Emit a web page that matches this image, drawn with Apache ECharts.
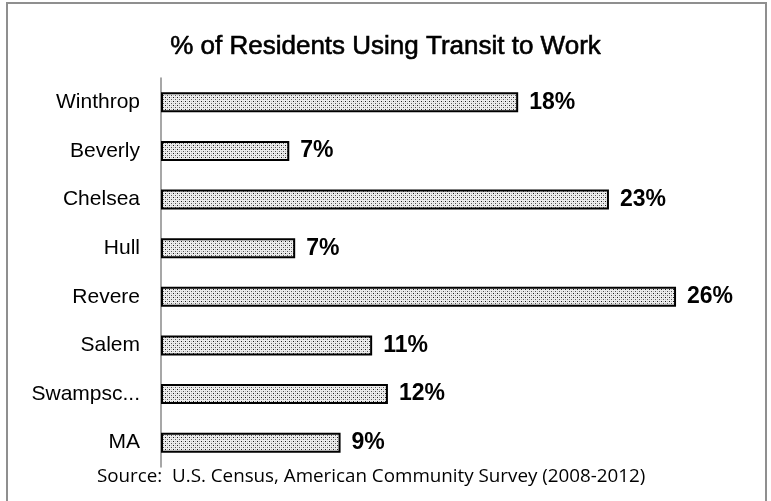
<!DOCTYPE html>
<html>
<head>
<meta charset="utf-8">
<script src="https://cdn.jsdelivr.net/npm/echarts@6/dist/echarts.min.js"></script>
<style>
  html, body { margin: 0; padding: 0; background: #fff; }
  #chart { width: 771px; height: 501px; }
</style>
</head>
<body>
<div id="chart"></div>
<script>
// Share of residents commuting by public transit (top row first)
const places = ['Winthrop', 'Beverly', 'Chelsea', 'Hull', 'Revere', 'Salem', 'Swampscott', 'MA'];
const transitShare = [18.1, 6.5, 22.7, 6.8, 26.1, 10.7, 11.5, 9.1];
const titleText = '% of Residents Using Transit to Work';
const sourceText = 'Source:  U.S. Census, American Community Survey (2008-2012)';

// Stippled fill used for every bar
function makeDots() {
  const c = document.createElement('canvas');
  c.width = 4; c.height = 4;
  const g = c.getContext('2d');
  g.fillStyle = '#ededed';
  g.fillRect(0, 0, 4, 4);
  g.fillStyle = '#1c1c1c';
  g.fillRect(1, 1, 1, 1);
  g.fillStyle = '#555555';
  g.fillRect(3, 3, 1, 1);
  g.fillStyle = '#bdbdbd';
  g.fillRect(3, 1, 1, 1);
  g.fillRect(1, 3, 1, 1);
  return c;
}

const chart = echarts.init(document.getElementById('chart'), null, { renderer: 'canvas' });

chart.setOption({
  animation: false,
  backgroundColor: '#fff',
  title: {
    text: titleText,
    left: 'center',
    top: 29,
    textStyle: {
      fontFamily: 'Liberation Sans, Arial, sans-serif',
      fontSize: 26,
      fontWeight: 'normal',
      color: '#000',
      textBorderColor: '#000',
      textBorderWidth: 0.6
    }
  },
  grid: { left: 161, top: 78, bottom: 34, right: 18, containLabel: false },
  xAxis: {
    type: 'value', min: 0, max: 30,
    show: false
  },
  yAxis: {
    type: 'category',
    data: places.slice().reverse(),
    axisLine: { show: true, lineStyle: { color: '#8a8a8a', width: 1.5 } },
    axisTick: { show: false },
    splitLine: { show: false },
    axisLabel: {
      margin: 21,
      fontFamily: 'Liberation Sans, Arial, sans-serif',
      fontSize: 21,
      color: '#000',
      width: 112,
      overflow: 'truncate',
      ellipsis: '...'
    }
  },
  series: [{
    type: 'bar',
    data: transitShare.slice().reverse(),
    barWidth: 20,
    itemStyle: {
      color: { image: makeDots(), repeat: 'repeat' },
      borderColor: '#000',
      borderWidth: 2
    },
    label: {
      show: true,
      position: 'right',
      distance: 11,
      fontFamily: 'Liberation Sans, Arial, sans-serif',
      fontSize: 23,
      fontWeight: 'bold',
      color: '#000',
      formatter: p => Math.round(p.value) + '%'
    }
  }],
  graphic: [
    {
      type: 'rect',
      shape: { x: 7, y: 3, width: 759, height: 530 },
      style: { fill: 'none', stroke: '#8f8f8f', lineWidth: 2 },
      silent: true
    },
    {
      type: 'text',
      left: 97,
      top: 467,
      style: {
        text: sourceText,
        fontFamily: 'Open Sans, sans-serif',
        fontSize: 18.8,
        fill: '#000'
      }
    }
  ]
});
</script>
</body>
</html>
